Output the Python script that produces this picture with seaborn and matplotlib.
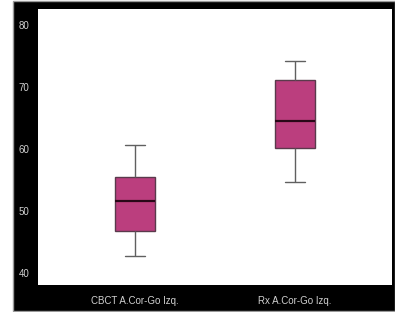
import numpy as np
import pandas as pd
import matplotlib
matplotlib.use("Agg")
import matplotlib.pyplot as plt
import seaborn as sns
from matplotlib.patches import Rectangle

# categorias y resumen de cinco numeros
grupos = ["CBCT A.Cor-Go Izq.", "Rx A.Cor-Go Izq."]
cbct = [42.7, 46.7, 51.6, 55.5, 60.7]
rx = [54.7, 60.2, 64.5, 71.1, 74.2]
yticks = [40, 50, 60, 70, 80]

df = pd.DataFrame({
    "grupo": [grupos[0]] * len(cbct) + [grupos[1]] * len(rx),
    "valor": cbct + rx,
})

sns.set_style("white")
plt.rcParams["font.family"] = ["Liberation Sans", "DejaVu Sans"]

W, H = 395, 312
fig = plt.figure(figsize=(W / 100, H / 100), dpi=100, facecolor="white")

# fondo negro con borde gris
fig.patches.append(Rectangle((13 / W, 1 / H), (W - 13) / W, (H - 2) / H,
                             transform=fig.transFigure, facecolor="black",
                             edgecolor="#9a9a9a", linewidth=1, zorder=-10))

ax = fig.add_axes([38 / W, (H - 285) / H, 354 / W, 276 / H])
ax.set_facecolor("white")
ax.set_zorder(5)

sns.boxplot(data=df, x="grupo", y="valor", ax=ax, width=0.25,
            color="#bb3e7e", saturation=1, whis=1.5,
            boxprops=dict(edgecolor="#5a3a4c", linewidth=1),
            whiskerprops=dict(color="#606060", linewidth=1),
            capprops=dict(color="#606060", linewidth=1),
            medianprops=dict(color="#2a0818", linewidth=1.6))

ax.set_xlim(-0.606, 1.606)
ax.set_ylim(38.06, 82.6)
ax.set_yticks(yticks)
ax.set_xlabel("")
ax.set_ylabel("")
for s in ax.spines.values():
    s.set_visible(False)
ax.tick_params(axis="both", length=0, colors="#d0d0d0", labelsize=7)
ax.tick_params(axis="y", pad=6)
ax.tick_params(axis="x", pad=8)

fig.savefig("out.png", dpi=100, facecolor=fig.get_facecolor())
